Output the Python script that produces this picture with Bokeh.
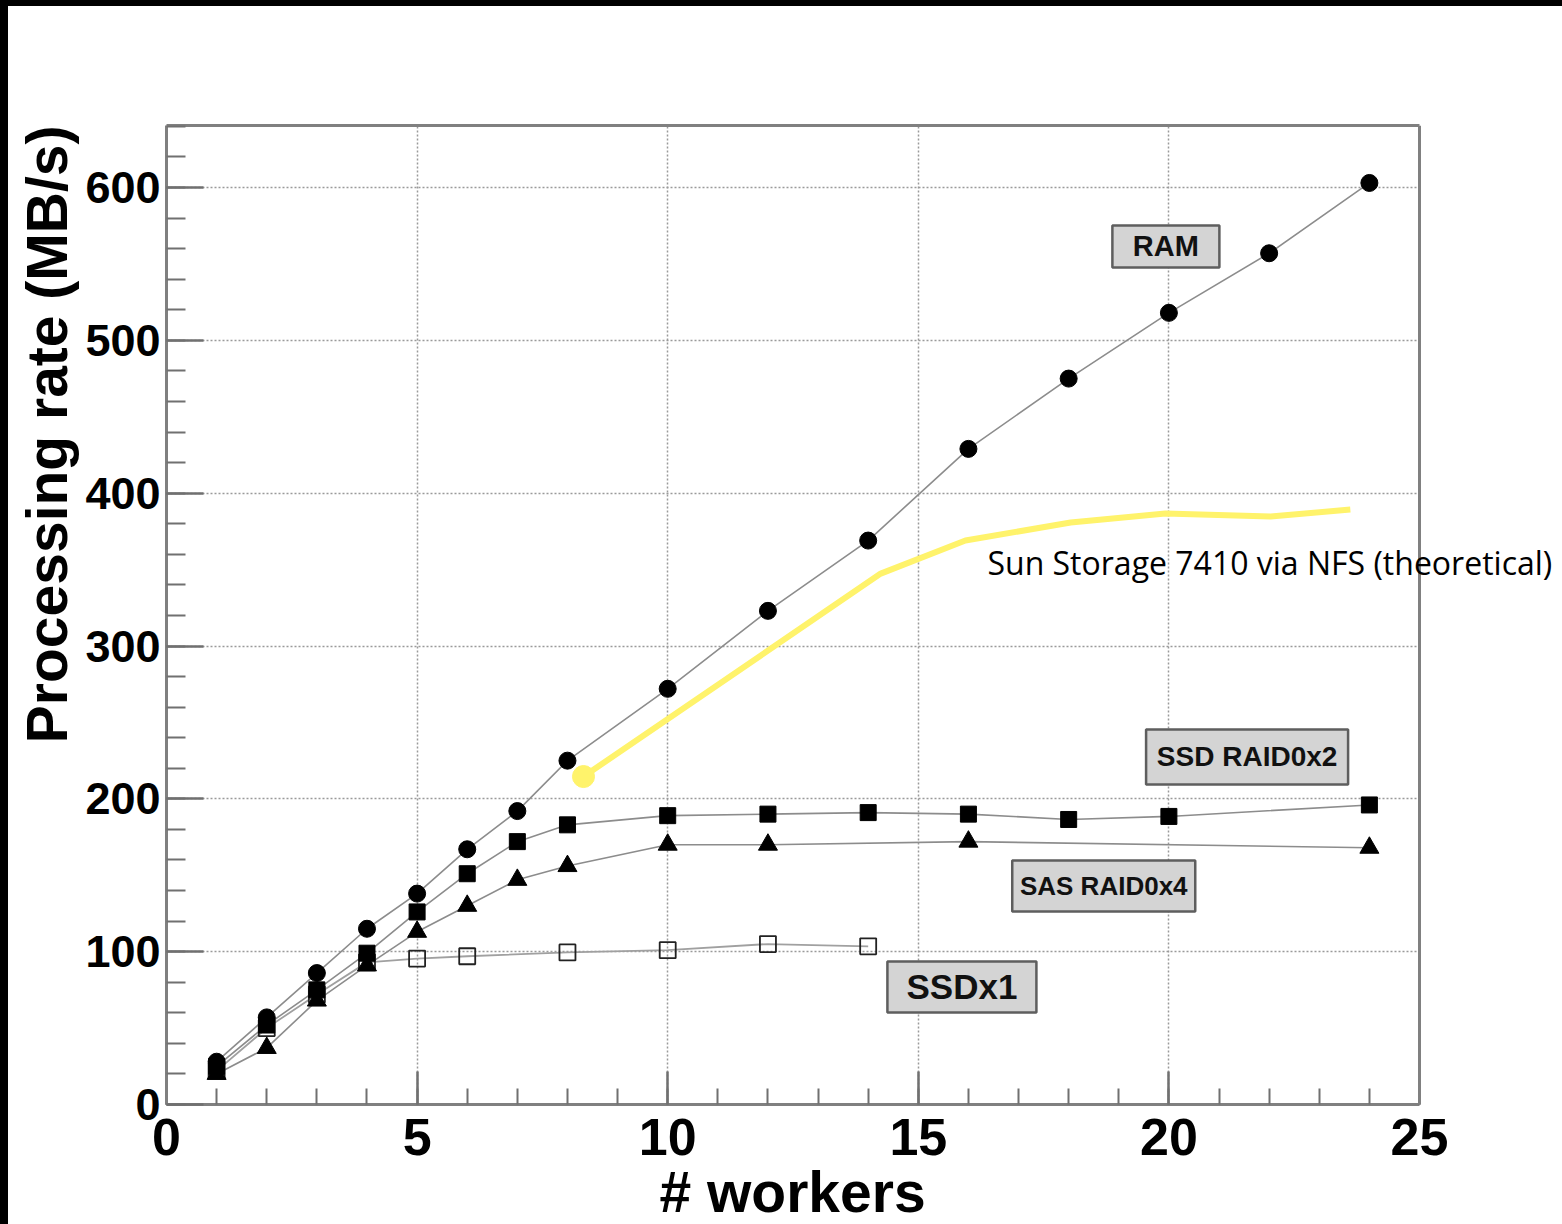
import math
from bokeh.plotting import figure
from bokeh.models import (Label, Range1d, SingleIntervalTicker, Spacer, ColumnDataSource,
                          LinearAxis, Span, BoxAnnotation, Title)
from bokeh.layouts import row, column
from bokeh.embed import file_html
from bokeh.resources import INLINE
from bokeh.core.properties import value

# ---------------- data ----------------
workers_ram = [1, 2, 3, 4, 5, 6, 7, 8, 10, 12, 14, 16, 18, 20, 22, 24]
rate_ram = [28, 57, 86, 115, 138, 167, 192, 225, 272, 323, 369, 429, 475, 518, 557, 603]

workers_ssd2 = [1, 2, 3, 4, 5, 6, 7, 8, 10, 12, 14, 16, 18, 20, 24]
rate_ssd2 = [25, 52, 75, 99, 126, 151, 172, 183, 189, 190, 191, 190, 186.5, 188.5, 196]

workers_sas4 = [1, 2, 3, 4, 5, 6, 7, 8, 10, 12, 16, 24]
rate_sas4 = [20, 37, 68, 91, 113, 130, 147, 156, 170, 170, 172, 168]

workers_ssd1 = [1, 2, 3, 4, 5, 6, 8, 10, 12, 14]
rate_ssd1 = [22, 50, 72, 93, 95.5, 97, 99.5, 101, 105, 103.5]

workers_nfs = [8.32, 14.25, 15.94, 18.04, 19.93, 22.03, 23.62]
rate_nfs = [214.6, 347.4, 369.0, 380.8, 386.7, 384.7, 389.3]

series_names = ["RAM", "SSD RAID0x2", "SAS RAID0x4", "SSDx1"]
nfs_name = "Sun Storage 7410 via NFS (theoretical)"
x_title = "# workers"
y_title = "Processing rate (MB/s)"

X_MAX = 25          # end of the drawn axis
Y_MAX = 640.6

# ---------------- figure ----------------
FONT = "Liberation Sans"
# the frame runs to the right edge of the canvas so that the NFS note
# (which overhangs the axes box) is not clipped; the axes box itself ends at X_MAX
x_view_end = X_MAX * 1396 / 1253
p = figure(width=1554, height=1218,
           x_range=Range1d(0, x_view_end), y_range=Range1d(0, Y_MAX),
           output_backend="svg", toolbar_location=None,
           min_border_left=158, min_border_right=0,
           min_border_top=119, min_border_bottom=120,
           background_fill_color="white", border_fill_color="white")
p.outline_line_color = None

p.xaxis.ticker = SingleIntervalTicker(interval=5, num_minor_ticks=5)
p.yaxis.ticker = SingleIntervalTicker(interval=100, num_minor_ticks=5)
p.xaxis.bounds = (0, X_MAX)

frame_col = "#808080"
for ax in (p.xaxis, p.yaxis):
    ax.axis_line_color = frame_col
    ax.axis_line_width = 3
    ax.major_tick_out = 0
    ax.minor_tick_out = 0
    ax.major_tick_line_color = "#707070"
    ax.major_tick_line_width = 2.5
    ax.minor_tick_line_color = "#707070"
    ax.minor_tick_line_width = 2
    ax.major_label_text_font = FONT
    ax.major_label_text_font_style = "bold"
    ax.major_label_text_color = "black"

p.xaxis.major_tick_in = 33
p.xaxis.minor_tick_in = 16
p.yaxis.major_tick_in = 37
p.yaxis.minor_tick_in = 19
p.xaxis.major_label_text_font_size = "52px"
p.yaxis.major_label_text_font_size = "45px"
p.xaxis.major_label_standoff = 14
p.yaxis.major_label_standoff = 6

# axis titles (as side-panel titles so they can be placed like the original)
p.add_layout(Title(text=x_title, align="left", offset=493, standoff=0,
                   text_font=FONT, text_font_style="bold", text_font_size="57px",
                   text_color="black"), "below")
p.add_layout(Title(text=y_title, align="right", offset=0, standoff=8,
                   text_font=FONT, text_font_style="bold", text_font_size="57px",
                   text_color="black"), "left")

for g in (p.xgrid, p.ygrid):
    g.grid_line_color = "#9a9a9a"
    g.grid_line_dash = "2 2"
    g.grid_line_width = 1.5

# top and right edges of the axes box
top_axis = LinearAxis(bounds=(0, X_MAX), axis_line_color=frame_col, axis_line_width=3,
                      major_tick_line_color=None, minor_tick_line_color=None,
                      major_label_text_color=None, major_tick_in=0, major_tick_out=0,
                      minor_tick_in=0, minor_tick_out=0, major_label_standoff=0)
p.add_layout(top_axis, "above")
p.add_layout(BoxAnnotation(left=X_MAX, fill_color="white", fill_alpha=1.0,
                           line_color=None, level="glyph"))
p.add_layout(Span(location=X_MAX, dimension="height", line_color=frame_col, line_width=3))

# ---------------- series ----------------
line_col = "#8c8c8c"
p.line(workers_ssd1, rate_ssd1, line_color="#a0a0a0", line_width=1.8)
p.line(workers_sas4, rate_sas4, line_color=line_col, line_width=1.6)
p.line(workers_ssd2, rate_ssd2, line_color=line_col, line_width=1.6)
p.line(workers_ram, rate_ram, line_color=line_col, line_width=1.6)

p.scatter(workers_ssd1, rate_ssd1, marker="square", size=16,
          fill_color=None, line_color="#222222", line_width=1.8)
p.scatter(workers_sas4, rate_sas4, marker="triangle", size=19,
          fill_color="black", line_color="black")
p.scatter(workers_ssd2, rate_ssd2, marker="square", size=16,
          fill_color="black", line_color="black")
p.scatter(workers_ram, rate_ram, marker="circle", size=17,
          fill_color="black", line_color="black")

# yellow theoretical curve
yellow = "#fff36b"
p.line(workers_nfs, rate_nfs, line_color=yellow, line_width=6, line_join="round")
p.scatter(workers_nfs[:1], rate_nfs[:1], marker="circle", size=22,
          fill_color=yellow, line_color=yellow)

# ---------------- boxed series labels (annotation layout) ----------------
box_x = [19.94, 21.56, 18.70, 15.87]
box_y = [561.5, 227.4, 143.0, 76.9]
box_w = [107, 202, 183, 149]
box_h = [42, 55, 51, 51]
box_fs = ["29px", "28px", "26px", "35px"]

p.rect(box_x, box_y, width=box_w, height=box_h,
       width_units="screen", height_units="screen",
       fill_color="#d4d4d4", line_color="#5e5e5e", line_width=2.5)
src = ColumnDataSource(dict(x=box_x, y=box_y, t=series_names, fs=box_fs))
p.text(x="x", y="y", text="t", source=src, text_font_size="fs",
       text_font=value(FONT), text_font_style="bold", text_color="#111111",
       text_align="center", text_baseline="middle")

# NFS note
p.add_layout(Label(x=16.38, y=354.6, text=nfs_name, text_font="Open Sans",
                   text_font_size="32px", text_color="black",
                   text_align="left", text_baseline="alphabetic"))

# black screenshot frame strips
left_strip = Spacer(width=8, height=1224, styles={"background-color": "black"})
top_strip = Spacer(width=1554, height=6, styles={"background-color": "black"})
layout = row(left_strip, column(top_strip, p, spacing=0), spacing=0)

open("out.html", "w").write(file_html(layout, INLINE))
